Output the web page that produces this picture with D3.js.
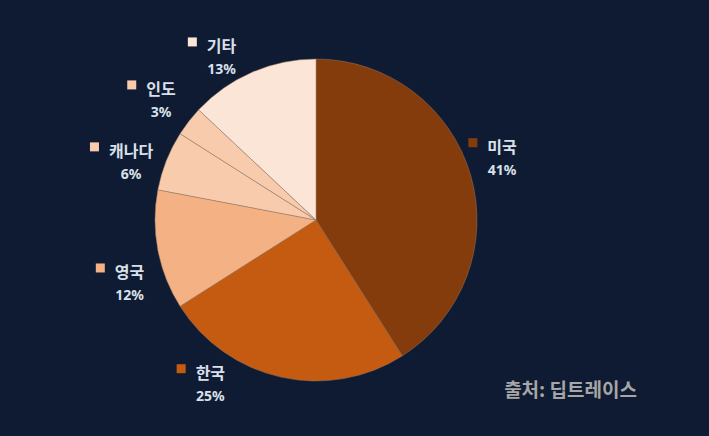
<!DOCTYPE html>
<html>
<head>
<meta charset="utf-8">
<script src="https://cdn.jsdelivr.net/npm/d3@7"></script>
<style>
  html, body { margin: 0; padding: 0; background: #0f1b32; }
  svg { display: block; }
</style>
</head>
<body>
<div id="chart"></div>
<script>
// data
const countries = ["미국", "한국", "영국", "캐나다", "인도", "기타"];
const shares = [41, 25, 12, 6, 3, 13];
const sliceColors = ["#843c0c", "#c55a11", "#f4b183", "#f8cbad", "#f8cbad", "#fbe5d6"];
const sourceText = "출처: 딥트레이스";

// layout
const width = 709, height = 436;
const cx = 316, cy = 220, radius = 161;
const labelRadius = 200;
// label nudges from the label arc (Excel "best fit" placement)
const labelNudge = [[-6, -7], [-62, -32], [10, 25], [1, 15], [3, 2], [-15, 20]];

const svg = d3.select("#chart").append("svg")
    .attr("width", width)
    .attr("height", height);

svg.append("rect")
    .attr("width", width)
    .attr("height", height)
    .attr("fill", "#0f1b32");

const pie = d3.pie().sort(null).value(d => d);
const arcs = pie(shares);

const arc = d3.arc().innerRadius(0).outerRadius(radius);
const labelArc = d3.arc().innerRadius(labelRadius).outerRadius(labelRadius);

const g = svg.append("g")
    .attr("transform", `translate(${cx},${cy})`);

g.selectAll("path.slice")
    .data(arcs)
    .join("path")
    .attr("class", "slice")
    .attr("d", arc)
    .attr("fill", (d, i) => sliceColors[i])
    .attr("stroke", "rgba(150,120,100,0.8)")
    .attr("stroke-width", 0.6);

// labels: square marker + name, percent below
const labels = g.selectAll("g.label")
    .data(arcs)
    .join("g")
    .attr("class", "label")
    .attr("transform", (d, i) => {
        const [x, y] = labelArc.centroid(d);
        return `translate(${x + labelNudge[i][0]},${y + labelNudge[i][1]})`;
    });

labels.append("text")
    .attr("class", "name")
    .attr("text-anchor", "middle")
    .attr("y", -4)
    .attr("fill", "#dae0ea")
    .style("font-family", "'Noto Sans CJK KR', 'Noto Sans', sans-serif")
    .style("font-weight", "bold")
    .style("font-size", "16px")
    .text((d, i) => countries[i]);

labels.append("text")
    .attr("text-anchor", "middle")
    .attr("y", 18)
    .attr("fill", "#dae0ea")
    .style("font-family", "'Noto Sans', 'Open Sans', sans-serif")
    .style("font-weight", "bold")
    .style("font-size", "14px")
    .text(d => d.data + "%");

labels.each(function(d, i) {
    const sel = d3.select(this);
    const w = sel.select("text.name").node().getComputedTextLength();
    sel.append("rect")
        .attr("x", -w / 2 - 19)
        .attr("y", -19)
        .attr("width", 9)
        .attr("height", 9)
        .attr("fill", sliceColors[i]);
});

svg.append("text")
    .attr("x", 637)
    .attr("y", 397)
    .attr("text-anchor", "end")
    .attr("fill", "#a6a6a6")
    .style("font-family", "'Noto Sans CJK KR', sans-serif")
    .style("font-weight", "bold")
    .style("font-size", "19px")
    .text(sourceText);
</script>
</body>
</html>
